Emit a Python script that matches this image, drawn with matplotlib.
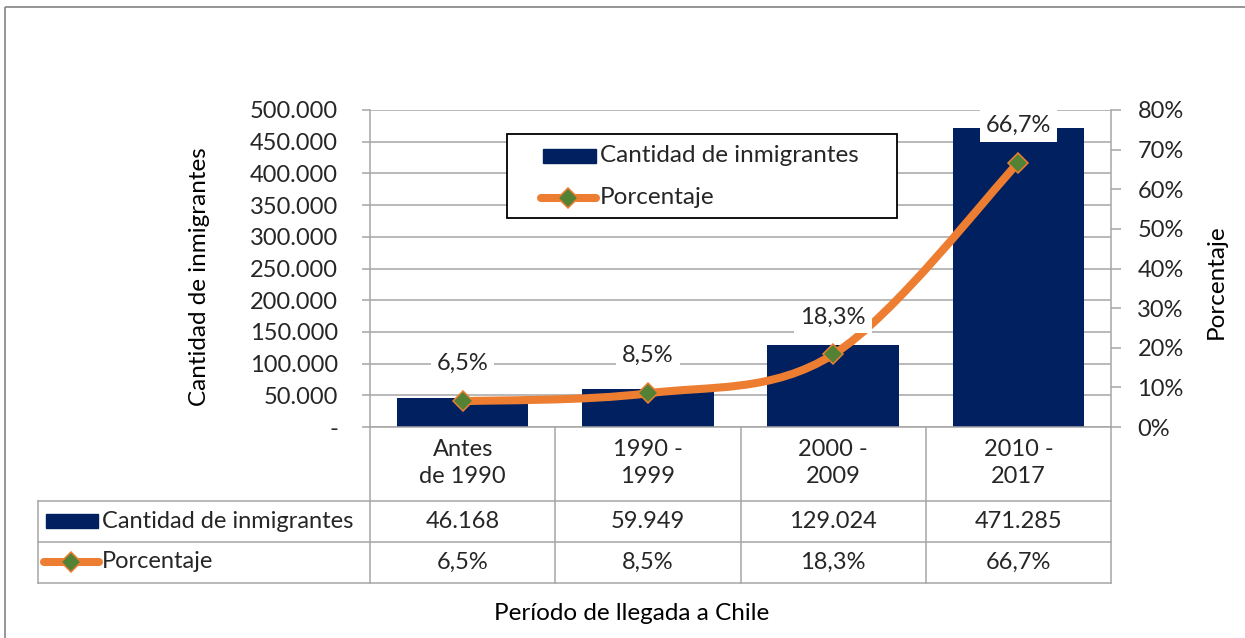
#!/usr/bin/env python3
"""Inmigrantes en Chile por periodo de llegada: barras + porcentaje con tabla de datos."""

import matplotlib
matplotlib.use('Agg')
import matplotlib.pyplot as plt
import numpy as np
from matplotlib.lines import Line2D
from matplotlib.patches import PathPatch, Rectangle
from matplotlib.path import Path
from matplotlib.ticker import FuncFormatter

# --- data -----------------------------------------------------------------
categories = ['Antes\nde 1990', '1990 -\n1999', '2000 -\n2009', '2010 -\n2017']
counts = [46168, 59949, 129024, 471285]
percent = [0.065, 0.085, 0.183, 0.667]
series_names = ['Cantidad de inmigrantes', 'Porcentaje']

NAVY = '#002060'
ORANGE = '#ED7D31'
GREEN = '#548235'
GRID = '#A6A6A6'
TXT = '#262626'
FS = 17
MS = 10

plt.rcParams['font.family'] = ['Lato', 'DejaVu Sans']

W, H = 1245, 638
fig = plt.figure(figsize=(W / 100, H / 100), dpi=100)


def fx(px):
    return px / W


def fy(py):
    return 1 - py / H


def thousands(v):
    return f'{int(round(v)):,}'.replace(',', '.')


def pct(v):
    return f'{v * 100:.1f}%'.replace('.', ',')


# --- main axes (bars) -------------------------------------------------------
L, R, T, B = 370, 1111, 110, 427
ax = fig.add_axes([fx(L), fy(B), fx(R) - fx(L), fy(T) - fy(B)])
x = np.arange(len(categories))
ax.bar(x, counts, width=0.71, color=NAVY, zorder=2)
ax.set_xlim(-0.5, len(categories) - 0.5)
ax.set_ylim(0, 500000)
ax.set_yticks(np.arange(0, 500001, 50000))
ax.yaxis.set_major_formatter(FuncFormatter(lambda v, _: '-' if v == 0 else thousands(v)))
ax.yaxis.grid(True, color=GRID, lw=1.1, zorder=0)
ax.set_axisbelow(True)
ax.set_xticks([])
for s in ['top', 'right']:
    ax.spines[s].set_visible(False)
for s in ['left', 'bottom']:
    ax.spines[s].set_color(GRID)
    ax.spines[s].set_linewidth(1.1)
ax.tick_params(axis='y', length=6, width=1.1, color=GRID, labelsize=FS,
               labelcolor=TXT, pad=17)

# --- secondary axes (percentage line) --------------------------------------
ax2 = ax.twinx()
ax2.set_ylim(0, 0.8)
ax2.set_yticks(np.arange(0, 0.81, 0.1))
ax2.yaxis.set_major_formatter(FuncFormatter(lambda v, _: f'{int(round(v * 100))}%'))
for s in ['top', 'left', 'bottom']:
    ax2.spines[s].set_visible(False)
ax2.spines['right'].set_color(GRID)
ax2.spines['right'].set_linewidth(1.1)
ax2.tick_params(axis='y', length=7, width=1.1, color=GRID, labelsize=FS,
                labelcolor=TXT, pad=12)

# smoothed line (bezier through the data points, like Excel's smooth line)
pts = np.column_stack([x, percent]).astype(float)
verts = [pts[0]]
codes = [Path.MOVETO]
n = len(pts)
for i in range(n - 1):
    p0 = pts[i - 1] if i > 0 else pts[i]
    p1, p2 = pts[i], pts[i + 1]
    p3 = pts[i + 2] if i + 2 < n else pts[i + 1]
    verts += [p1 + (p2 - p0) / 6, p2 - (p3 - p1) / 6, p2]
    codes += [Path.CURVE4] * 3
ax2.add_patch(PathPatch(Path(verts, codes), facecolor='none', edgecolor=ORANGE,
                        lw=5.8, capstyle='round', joinstyle='round', zorder=3))
ax2.plot(x, percent, linestyle='none', marker='D', ms=MS, mfc=GREEN,
         mec=ORANGE, mew=1.1, zorder=4)
for xi, p in zip(x, percent):
    ax2.annotate(pct(p), (xi, p), xytext=(0, 27), textcoords='offset points',
                 ha='center', va='center', fontsize=FS, color=TXT, zorder=5,
                 bbox=dict(boxstyle='square,pad=0.25', fc='white', ec='none'))

# --- overlay for table, legend, titles -------------------------------------
ov = fig.add_axes([0, 0, 1, 1], zorder=-1)
ov.set_xlim(0, W)
ov.set_ylim(H, 0)
ov.axis('off')

# outer chart border
ov.add_patch(Rectangle((5, 7), W + 20, H + 20, fill=False, ec='#8C8C8C', lw=1.3))

# data table
col_w = (R - L) / len(categories)
col_edges = [L + i * col_w for i in range(len(categories) + 1)]
rows_y = [501, 542, 583]
for y in rows_y:
    ov.plot([38, R], [y, y], color=GRID, lw=1.1)
ov.plot([38, 38], [rows_y[0], rows_y[-1]], color=GRID, lw=1.1)
for cx in col_edges:
    ov.plot([cx, cx], [B, rows_y[-1]], color=GRID, lw=1.1)

for i, cat in enumerate(categories):
    cx = (col_edges[i] + col_edges[i + 1]) / 2
    ov.text(cx, 463, cat, ha='center', va='center', fontsize=FS, color=TXT,
            linespacing=1.4)
    ov.text(cx, 521, thousands(counts[i]), ha='center', va='center', fontsize=FS, color=TXT)
    ov.text(cx, 562, pct(percent[i]), ha='center', va='center', fontsize=FS, color=TXT)

# row keys
ov.add_patch(Rectangle((46, 514), 52, 14, color=NAVY))
ov.add_line(Line2D([44, 99], [562, 562], color=ORANGE, lw=5.8, solid_capstyle='round'))
ov.plot([71], [562], marker='D', ms=MS, mfc=GREEN, mec=ORANGE, mew=1.1)
ov.text(102, 521, series_names[0], ha='left', va='center', fontsize=FS, color=TXT)
ov.text(102, 562, series_names[1], ha='left', va='center', fontsize=FS, color=TXT)

# legend (inside plot area)
lg = fig.add_axes([0, 0, 1, 1], zorder=10)
lg.set_xlim(0, W)
lg.set_ylim(H, 0)
lg.axis('off')
lg.add_patch(Rectangle((507, 134), 390, 84, fc='white', ec='black', lw=1.3))
lg.add_patch(Rectangle((543, 149), 53, 14, color=NAVY))
lg.add_line(Line2D([541, 596], [198, 198], color=ORANGE, lw=5.8, solid_capstyle='round'))
lg.plot([568], [198], marker='D', ms=MS, mfc=GREEN, mec=ORANGE, mew=1.1)
lg.text(600, 156, series_names[0], ha='left', va='center', fontsize=FS + 0.5, color=TXT)
lg.text(600, 198, series_names[1], ha='left', va='center', fontsize=FS + 0.5, color=TXT)

# axis titles
fig.text(fx(200), fy(277), 'Cantidad de inmigrantes', rotation=90, ha='center',
         va='center', fontsize=FS + 0.5, color='black')
fig.text(fx(1216), fy(282), 'Porcentaje', rotation=90, ha='center', va='center',
         fontsize=FS + 0.5, color='black')
fig.text(fx(632), fy(613), 'Período de llegada a Chile', ha='center', va='center',
         fontsize=FS + 0.5, color='black')

fig.savefig('out.png', dpi=100, facecolor='white')
